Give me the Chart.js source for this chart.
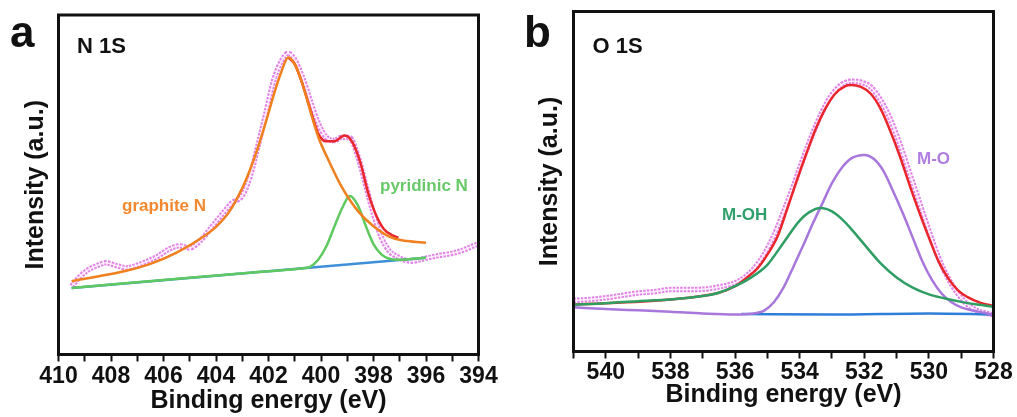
<!DOCTYPE html>
<html>
<head>
<meta charset="utf-8">
<script src="https://cdn.jsdelivr.net/npm/chart.js@4.4.1/dist/chart.umd.min.js"></script>
<style>
  html, body { margin: 0; padding: 0; background: #fff; }
  body { width: 1017px; height: 417px; position: relative; overflow: hidden; }
  canvas { position: absolute; top: 0; }
  #n1s { left: 0; }
  #o1s { left: 510px; }
</style>
</head>
<body>
<canvas id="n1s" width="505" height="417"></canvas>
<canvas id="o1s" width="507" height="417"></canvas>
<script>
// ---- panel a : N 1S ----
const aTickLabels = [410, 408, 406, 404, 402, 400, 398, 396, 394];

const aRawX = [409.5, 409.2, 408.9, 408.5, 408.2, 407.8, 407.4, 407.0, 406.6, 406.2, 405.8, 405.4, 405.0, 404.6, 404.2, 403.8, 403.4, 403.0, 402.7, 402.4, 402.1, 401.8, 401.5, 401.25, 401.0, 400.7, 400.4, 400.1, 399.8, 399.5, 399.2, 398.9, 398.6, 398.3, 398.0, 397.7, 397.4, 397.1, 396.8, 396.5, 396.2, 395.8, 395.4, 395.0, 394.6, 394.2, 394.05];
const aRawY = [20.1, 22.8, 24.8, 26.3, 27.0, 26.2, 25.5, 26.3, 27.5, 29.0, 31.0, 32.0, 31.4, 33.5, 37.2, 41.0, 44.6, 46.8, 52.5, 61.5, 71.0, 80.8, 86.5, 88.7, 86.8, 81.5, 74.5, 68.0, 64.0, 63.0, 64.0, 63.8, 58.5, 50.0, 41.5, 34.5, 30.5, 28.8, 27.8, 27.5, 28.0, 28.7, 29.3, 29.8, 30.7, 32.0, 32.5];

const aGraphX = [409.5, 408.5, 407.5, 406.5, 405.5, 404.5, 404.0, 403.5, 403.0, 402.7, 402.4, 402.1, 401.8, 401.5, 401.25, 401.0, 400.7, 400.4, 400.1, 399.7, 399.2, 398.6, 398.0, 397.3, 396.7, 396.0];
const aGraphY = [21.6, 23.0, 24.5, 26.7, 30.0, 34.6, 37.6, 42.0, 49.0, 54.5, 61.0, 68.5, 76.5, 83.5, 87.5, 85.5, 79.5, 71.5, 64.0, 57.0, 49.2, 42.3, 37.8, 34.4, 33.4, 32.9];

const aFitX = [401.25, 401.0, 400.7, 400.4, 400.1, 399.8, 399.5, 399.1, 398.8, 398.5, 398.2, 397.9, 397.6, 397.3, 397.05];
const aFitY = [87.5, 85.5, 79.5, 72.0, 65.0, 62.8, 62.8, 64.5, 62.5, 56.5, 47.5, 41.0, 36.9, 35.2, 34.4];

const aPyrX = [409.5, 405.0, 402.5, 400.8, 400.4, 400.1, 399.8, 399.5, 399.2, 398.9, 398.6, 398.3, 398.0, 397.7, 397.4, 397.0, 396.5, 396.0];
const aPyrY = [19.6, 22.6, 24.2, 25.3, 25.9, 28.0, 31.8, 37.5, 43.0, 46.7, 44.0, 38.0, 32.5, 29.5, 28.2, 27.9, 28.2, 28.5];

const aBaseX = [409.5, 396.0];
const aBaseY = [19.6, 28.5];

// ---- panel b : O 1S ----
const bTickLabels = [540, 538, 536, 534, 532, 530, 528];

const bRawX = [541.0, 540.5, 540.0, 539.5, 539.0, 538.5, 538.0, 537.5, 537.0, 536.5, 536.0, 535.7, 535.4, 535.1, 534.8, 534.5, 534.2, 533.9, 533.6, 533.3, 533.0, 532.7, 532.4, 532.1, 531.8, 531.5, 531.2, 530.9, 530.6, 530.3, 530.0, 529.7, 529.4, 529.1, 528.8, 528.5, 528.2, 528.0];
const bRawY = [15.0, 15.3, 15.8, 16.5, 17.2, 17.6, 18.2, 18.2, 18.3, 19.0, 20.2, 21.8, 24.5, 28.5, 34.0, 41.0, 48.5, 56.5, 64.0, 70.5, 75.5, 78.5, 79.5, 79.2, 77.8, 74.0, 68.5, 61.0, 52.5, 44.0, 35.5, 27.5, 21.5, 17.0, 13.8, 12.0, 11.2, 10.8];

const bFitX = [541.0, 538.0, 536.5, 536.0, 535.6, 535.3, 535.0, 534.7, 534.4, 534.1, 533.8, 533.5, 533.2, 532.9, 532.6, 532.4, 532.1, 531.8, 531.5, 531.2, 530.9, 530.6, 530.3, 530.0, 529.7, 529.4, 529.1, 528.8, 528.4, 528.0];
const bFitY = [13.8, 15.3, 17.3, 19.2, 22.0, 24.5, 28.5, 33.5, 41.5, 50.0, 58.0, 65.5, 71.5, 75.8, 78.0, 78.4, 77.8, 75.8, 71.5, 65.0, 57.5, 49.0, 41.0, 33.5, 26.5, 21.5, 18.0, 16.0, 14.3, 13.4];

const bOhX = [541.0, 540.0, 539.0, 538.0, 537.0, 536.5, 536.0, 535.5, 535.0, 534.5, 534.0, 533.7, 533.35, 533.0, 532.7, 532.4, 532.0, 531.5, 531.0, 530.5, 530.0, 529.5, 529.0, 528.5, 528.0];
const bOhY = [13.8, 14.2, 14.8, 15.3, 16.3, 17.3, 19.2, 21.8, 25.5, 32.0, 38.5, 41.0, 42.2, 41.2, 39.0, 36.0, 31.5, 26.0, 21.8, 18.8, 16.8, 15.6, 14.6, 13.8, 13.2];

const bMoX = [541.0, 540.0, 539.0, 538.0, 537.0, 536.0, 535.5, 535.1, 534.8, 534.5, 534.2, 533.9, 533.6, 533.3, 533.0, 532.7, 532.4, 532.0, 531.7, 531.4, 531.1, 530.8, 530.5, 530.2, 529.9, 529.6, 529.3, 529.0, 528.5, 528.0];
const bMoY = [13.0, 12.5, 12.1, 11.7, 11.2, 10.9, 11.1, 12.0, 14.5, 18.8, 24.8, 31.0, 37.5, 43.5, 49.5, 54.0, 56.8, 57.8, 56.6, 53.0, 47.0, 40.5, 33.5, 26.5, 21.0, 17.0, 14.5, 13.0, 11.8, 10.8];

const bBaseX = [535.8, 533.0, 530.0, 528.0];
const bBaseY = [11.0, 10.9, 11.2, 10.9];

Chart.defaults.font.family = '"Liberation Sans", Arial, sans-serif';
Chart.defaults.color = '#111';

function pts(xs, ys) {
    return xs.map((x, i) => ({ x: x, y: ys[i] }));
}

// raw data: dashed magenta band with a pale core, looks like a chain of open circles
function rawSets(xs, ys) {
    return [
        { data: pts(xs, ys), borderColor: 'rgba(220, 100, 226, 0.8)', borderWidth: 5.5, borderDash: [2.5, 1.2], order: 20 },
        { data: pts(xs, ys), borderColor: 'rgba(255, 240, 255, 0.95)', borderWidth: 1.5, order: 19 }
    ];
}

function fit(xs, ys, color, order) {
    return { data: pts(xs, ys), borderColor: color, borderWidth: 2.5, order: order };
}

function panelText(items) {
    return {
        id: 'panelText',
        afterDraw(chart) {
            const { ctx, chartArea: a } = chart;
            ctx.save();
            ctx.lineWidth = 3;
            ctx.strokeStyle = '#111';
            ctx.strokeRect(a.left, a.top, a.right - a.left, a.bottom - a.top);
            ctx.textBaseline = 'alphabetic';
            items.forEach((t) => {
                ctx.font = 'bold ' + t.size + 'px "Liberation Sans", Arial, sans-serif';
                ctx.fillStyle = t.color;
                ctx.fillText(t.text, t.x, t.y);
            });
            ctx.restore();
        }
    };
}

function makeChart(id, cfg) {
    return new Chart(document.getElementById(id), {
        type: 'line',
        data: { datasets: cfg.datasets },
        options: {
            responsive: false,
            animation: false,
            events: [],
            layout: { padding: { top: cfg.top, right: cfg.right, left: 0, bottom: 0 } },
            elements: {
                point: { radius: 0 },
                line: { cubicInterpolationMode: 'monotone', fill: false }
            },
            plugins: { legend: { display: false }, tooltip: { enabled: false } },
            scales: {
                x: {
                    type: 'linear',
                    reverse: true,
                    min: cfg.xMin,
                    max: cfg.xMax,
                    afterFit: (s) => { s.height = cfg.xHeight; },
                    grid: { drawOnChartArea: false, tickLength: 7, tickWidth: 2, tickColor: '#111' },
                    border: { display: false },
                    ticks: {
                        stepSize: 1,
                        autoSkip: false,
                        maxRotation: 0,
                        padding: cfg.tickPad,
                        color: '#111',
                        font: { size: 23, weight: 'bold' },
                        callback: (v) => cfg.labels.includes(v) ? String(v) : ''
                    },
                    title: {
                        display: true,
                        text: 'Binding energy (eV)',
                        color: '#111',
                        font: { size: 25, weight: 'bold' },
                        padding: { top: 0, bottom: cfg.xTitlePad }
                    }
                },
                y: {
                    min: 0,
                    max: 100,
                    afterFit: (s) => { s.width = cfg.yWidth; },
                    grid: { display: false },
                    border: { display: false },
                    ticks: { display: false },
                    title: {
                        display: true,
                        text: 'Intensity (a.u.)',
                        color: '#111',
                        font: { size: 25, weight: 'bold' },
                        padding: { top: cfg.yTitlePad, bottom: 0 }
                    }
                }
            }
        },
        plugins: [panelText(cfg.texts)]
    });
}

makeChart('n1s', {
    datasets: rawSets(aRawX, aRawY).concat([
        fit(aBaseX, aBaseY, '#3d8fd8', 8),
        fit(aFitX, aFitY, '#e8262b', 7),
        fit(aPyrX, aPyrY, '#5ec95e', 6),
        fit(aGraphX, aGraphY, '#f0801e', 5)
    ]),
    labels: aTickLabels,
    xMin: 394, xMax: 410,
    top: 15, right: 26.5,
    xHeight: 62.5, yWidth: 58.5,
    tickPad: 1.5, xTitlePad: 1, yTitlePad: 21,
    texts: [
        { text: 'a', x: 10, y: 47, size: 44, color: '#111' },
        { text: 'N 1S', x: 77, y: 53, size: 22, color: '#111' },
        { text: 'graphite N', x: 122, y: 211, size: 17, color: '#f3892f' },
        { text: 'pyridinic N', x: 380, y: 191, size: 17, color: '#67c967' }
    ]
});

makeChart('o1s', {
    datasets: rawSets(bRawX, bRawY).concat([
        fit(bBaseX, bBaseY, '#2f7fd8', 8),
        fit(bFitX, bFitY, '#e8262b', 7),
        fit(bMoX, bMoY, '#a877dc', 6),
        fit(bOhX, bOhY, '#2e9e63', 5)
    ]),
    labels: bTickLabels,
    xMin: 528, xMax: 541,
    top: 11.5, right: 23.5,
    xHeight: 65.5, yWidth: 63.5,
    tickPad: 0.5, xTitlePad: 7, yTitlePad: 25.5,
    texts: [
        { text: 'b', x: 14, y: 47, size: 44, color: '#111' },
        { text: 'O 1S', x: 82.5, y: 53, size: 22, color: '#111' },
        { text: 'M-OH', x: 212, y: 220, size: 17, color: '#2f9f6b' },
        { text: 'M-O', x: 407, y: 164, size: 17, color: '#b07ee0' }
    ]
});
</script>
</body>
</html>
